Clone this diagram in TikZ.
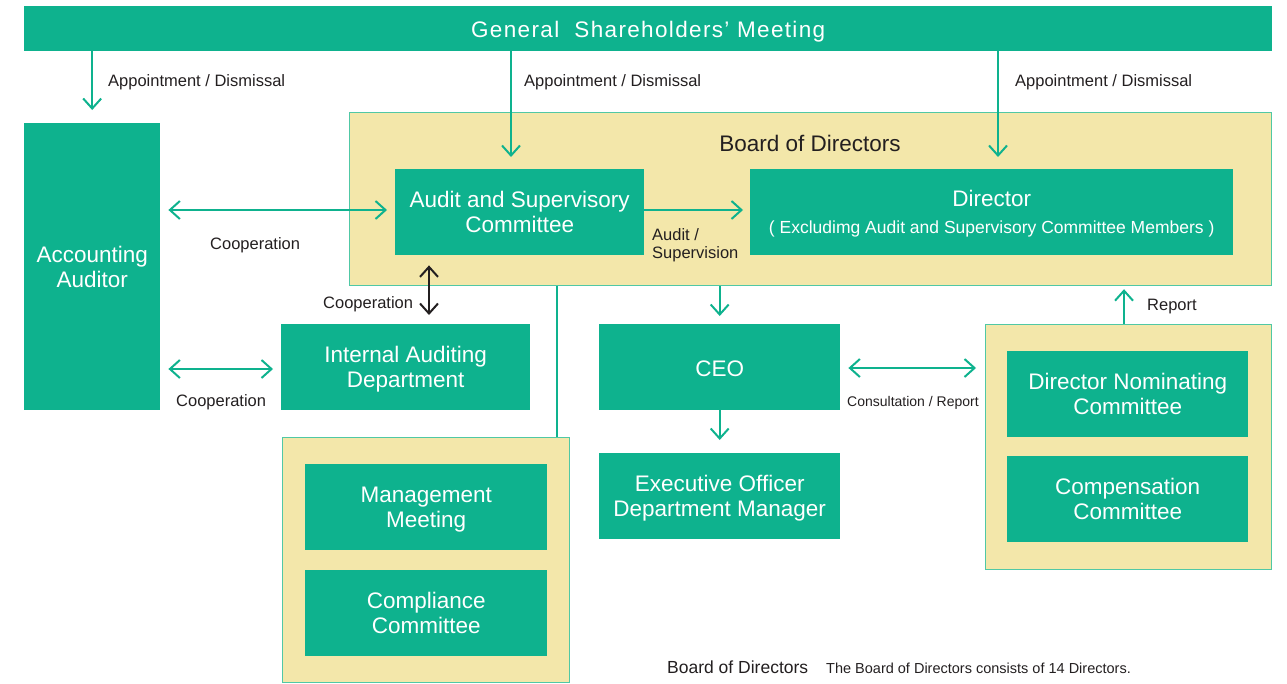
\documentclass[tikz,border=0pt]{standalone}
\usepackage{fontspec}
\setmainfont{Liberation Sans}
\usetikzlibrary{arrows.meta,calc}
\definecolor{teal1}{RGB}{14,178,142}
\definecolor{beige}{RGB}{243,231,170}
\definecolor{bline}{RGB}{80,200,165}
\definecolor{txt}{RGB}{35,31,32}
\newcommand{\nodepth}[1]{\raisebox{0pt}[\height][0pt]{#1}}
\tikzset{
 tbox/.style={fill=teal1, text=white, inner sep=0pt, align=center, anchor=north west, font=\fontsize{22.5}{25}\selectfont},
 bbox/.style={fill=beige, draw=bline, line width=1.2pt, inner sep=0pt, anchor=north west},
 lbl/.style={text=txt, inner sep=0pt, align=left, font=\fontsize{16.5}{18}\selectfont},
 tip/.tip={Straight Barb[length=10pt,width=18pt]},
 arr/.style={draw=teal1, line width=2pt, -tip},
 darr/.style={draw=teal1, line width=2pt, tip-tip},
 karr/.style={draw=txt, line width=2pt, tip-tip},
 plain/.style={draw=teal1, line width=2pt},
}
\begin{document}
\begin{tikzpicture}[x=1pt,y=-1pt]
\useasboundingbox (0,0) rectangle (1287,683);
% top banner
\node[tbox, minimum width=1248pt, minimum height=45pt, text height=17pt, text depth=0pt, font=\fontsize{22.5}{24}\selectfont\addfontfeature{LetterSpace=6}] (gsm) at (24,6) {General\ \ Shareholders’ Meeting};
% board of directors
\node[bbox, minimum width=922pt, minimum height=173pt] (board) at (349,112) {};
\node[lbl, font=\fontsize{22.5}{25}\selectfont] (boardt) at (810,143) {Board of Directors};
\node[tbox, minimum width=249pt, minimum height=86pt] (asc) at (395,169) {Audit and Supervisory\\Committee};
\node[tbox, minimum width=483pt, minimum height=86pt] (dir) at (750,169) {Director\\[2pt]{\fontsize{17.5}{20}\selectfont\nodepth{( Excludimg Audit and Supervisory Committee Members )}}};
% accounting auditor
\node[tbox, minimum width=136pt, minimum height=287pt] (aa) at (24,123) {Accounting\\Auditor};
% internal auditing
\node[tbox, minimum width=249pt, minimum height=86pt] (iad) at (281,324) {Internal Auditing\\\nodepth{Department}};
% lower left group
\node[bbox, minimum width=287pt, minimum height=245pt] (llbox) at (282,437) {};
\node[tbox, minimum width=242pt, minimum height=86pt] (mm) at (305,464) {Management\\\nodepth{Meeting}};
\node[tbox, minimum width=242pt, minimum height=86pt] (cc) at (305,570) {Compliance\\Committee};
% CEO and exec
\node[tbox, minimum width=241pt, minimum height=86pt, text height=18pt, text depth=0pt] (ceo) at (599,324) {CEO};
\node[tbox, minimum width=241pt, minimum height=86pt] (exec) at (599,453) {Executive Officer\\\nodepth{Department Manager}};
% right group
\node[bbox, minimum width=286pt, minimum height=245pt] (rbox) at (985,324) {};
\node[tbox, minimum width=241pt, minimum height=86pt] (dnc) at (1007,351) {Director Nominating\\Committee};
\node[tbox, minimum width=241pt, minimum height=86pt] (comp) at (1007,456) {Compensation\\Committee};

% connectors
\draw[arr, shorten >=13pt] (gsm.south -| aa.north) -- (aa.north);
\draw[arr, shorten >=12pt] (gsm.south -| 511,0) -- (asc.north -| 511,0);
\draw[arr, shorten >=12pt] (gsm.south -| 998,0) -- (dir.north -| 998,0);
\node[lbl, anchor=west] (l1) at (108,82) {Appointment / Dismissal};
\node[lbl, anchor=west] (l2) at (524,82) {Appointment / Dismissal};
\node[lbl, anchor=west] (l3) at (1015,82) {Appointment / Dismissal};

\draw[arr, shorten >=7pt] (asc.east |- 0,210) -- (dir.west |- 0,210);
\node[lbl, anchor=north west, font=\fontsize{16.5}{18}\selectfont] (l4) at (652,228) {Audit /\\Supervision};

\draw[darr, shorten <=8pt, shorten >=8pt] (aa.east |- 0,210) -- (asc.west |- 0,210);
\node[lbl, anchor=west] (l5) at (210,245) {Cooperation};

\draw[karr, shorten <=10pt, shorten >=9pt] (asc.south -| 429,0) -- (iad.north -| 429,0);
\node[lbl, anchor=west] (l6) at (323,304) {Cooperation};

\draw[darr, shorten <=8pt, shorten >=8pt] (aa.east |- 0,369) -- (iad.west |- 0,369);
\node[lbl, anchor=west] (l7) at (176,402) {Cooperation};

\draw[plain] (board.south -| 557,0) -- (llbox.north -| 557,0);

\draw[arr, shorten >=8pt] (board.south -| ceo.north) -- (ceo.north);
\draw[arr, shorten >=13pt] (ceo.south) -- (exec.north);

\draw[darr, shorten <=8pt, shorten >=9pt] (ceo.east |- 0,368) -- (rbox.west |- 0,368);
\node[lbl, anchor=west, font=\fontsize{14}{16}\selectfont] (l8) at (847,403) {Consultation / Report};

\draw[arr, shorten >=3pt] (rbox.north -| 1124,0) -- (board.south -| 1124,0);
\node[lbl, anchor=west] (l9) at (1147,307) {Report};

% footer
\node[lbl, anchor=base west, font=\fontsize{17.5}{20}\selectfont] (f1) at (667,673) {Board of Directors};
\node[lbl, anchor=base west, font=\fontsize{14.5}{16}\selectfont] (f2) at (826,673) {The Board of Directors consists of 14 Directors.};
\end{tikzpicture}
\end{document}
